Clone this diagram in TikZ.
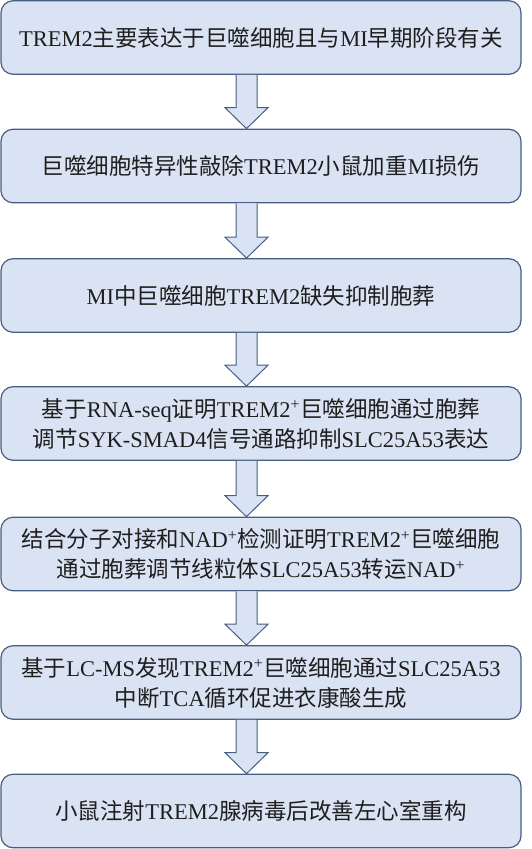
\documentclass[tikz,border=0pt]{standalone}
\usepackage{fontspec}
\setmainfont{Liberation Serif}
\newfontfamily\cjk{Noto Sans CJK SC}
\usetikzlibrary{calc}
\definecolor{boxfill}{RGB}{218,227,243}
\definecolor{boxline}{RGB}{72,94,128}
\definecolor{txt}{RGB}{30,30,30}
\newcommand\zh[1]{{\cjk #1}}
\newcommand\sps{\textsuperscript{+}}
\begin{document}
\begin{tikzpicture}[x=1pt,y=-1pt,
  stepbox/.style={draw=boxline, fill=boxfill, line width=1.2pt, rounded corners=12pt,
    minimum width=520pt, minimum height=73.5pt, inner sep=0pt, align=center, text=txt,
    font=\fontsize{22.5}{30}\selectfont},
  blockarrow/.style={draw=boxline, fill=boxfill, line width=1pt, line join=miter}]
\useasboundingbox (0,0) rectangle (531,849);
\node[stepbox] (b1) at (261,37.5) {TREM2\zh{主要表达于巨噬细胞且与}MI\zh{早期阶段有关}};
\node[stepbox] (b2) at (261,166) {\zh{巨噬细胞特异性敲除}TREM2\zh{小鼠加重}MI\zh{损伤}};
\node[stepbox] (b3) at (261,295.5) {MI\zh{中巨噬细胞}TREM2\zh{缺失抑制胞葬}};
\node[stepbox] (b4) at (261,423.5) {\zh{基于}RNA-seq\zh{证明}TREM2\sps\zh{巨噬细胞通过胞葬}\\\zh{调节}SYK-SMAD4\zh{信号通路抑制}SLC25A53\zh{表达}};
\node[stepbox] (b5) at (261,554) {\zh{结合分子对接和}NAD\sps\zh{检测证明}TREM2\sps\zh{巨噬细胞}\\\zh{通过胞葬调节线粒体}SLC25A53\zh{转运}NAD\sps};
\node[stepbox] (b6) at (261,682.5) {\zh{基于}LC-MS\zh{发现}TREM2\sps\zh{巨噬细胞通过}SLC25A53\\\zh{中断}TCA\zh{循环促进衣康酸生成}};
\node[stepbox] (b7) at (261,811) {\zh{小鼠注射}TREM2\zh{腺病毒后改善左心室重构}};
\foreach \a/\b in {b1/b2,b2/b3,b3/b4,b4/b5,b5/b6,b6/b7} {
  \coordinate (s) at ($(\a.south)+(-14.5,0)$);
  \coordinate (t) at ($(\b.north)+(-14.5,0)$);
  \draw[blockarrow] ($(s)+(-10.5,0)$) -- ($(t)+(-10.5,-21)$) -- ($(t)+(-21.5,-21)$) -- (t)
    -- ($(t)+(21.5,-21)$) -- ($(t)+(10.5,-21)$) -- ($(s)+(10.5,0)$);
}
\end{tikzpicture}
\end{document}
